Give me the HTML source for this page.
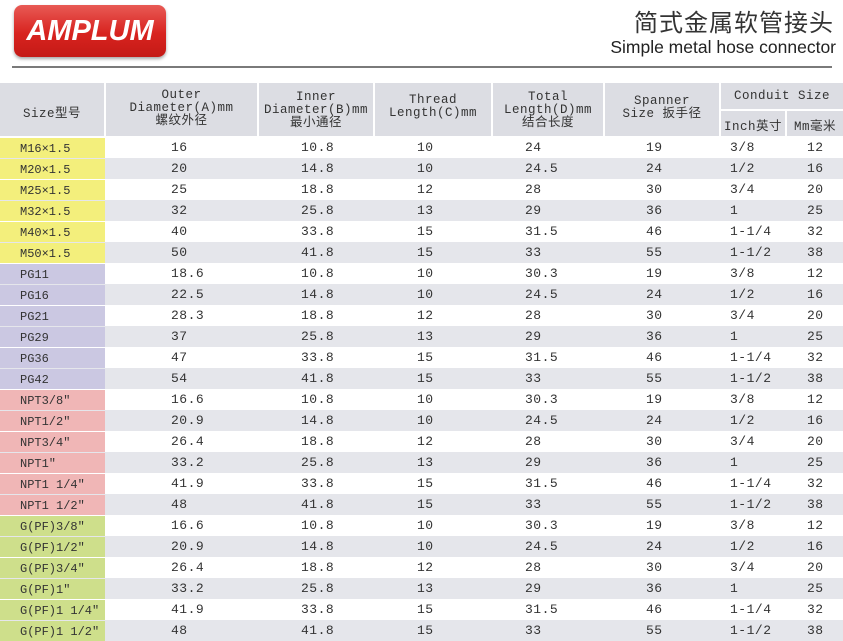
<!DOCTYPE html>
<html><head><meta charset="utf-8"><style>
body{margin:0;width:843px;height:641px;background:#fff;position:relative;overflow:hidden;font-family:"Liberation Sans","Noto Sans CJK SC",sans-serif;}
.logo{position:absolute;left:14px;top:5px;width:152px;height:52px;border-radius:8px;background:linear-gradient(#e85a55,#d8231f 55%,#c41a16);box-shadow:0 2px 3px rgba(0,0,0,.35);color:#fff;font:italic bold 29px "Liberation Sans",sans-serif;text-align:center;line-height:52px;letter-spacing:0px}
.t1{position:absolute;right:9px;top:3px;font-size:24px;color:#333;font-family:"Noto Sans CJK SC",sans-serif;letter-spacing:1px}
.t2{position:absolute;right:7px;top:37px;font-size:17.5px;color:#222}
.rule{position:absolute;left:12px;top:66px;width:820px;height:2px;background:#7a7a7a}
.c{position:absolute;font-family:"Liberation Mono","Noto Sans CJK SC",monospace;font-size:13px;color:#333;letter-spacing:0.5px;white-space:nowrap}
.s{font-size:12px;letter-spacing:0;margin-top:2px}
.h{position:absolute;background:#dcdde3;}
.hc{position:absolute;font-family:"Liberation Mono","Noto Sans CJK SC",monospace;font-size:12.5px;color:#333;text-align:center;line-height:13px;letter-spacing:0.5px;white-space:nowrap}
.r{position:absolute;left:0;width:843px;height:21px}
</style></head><body>
<div class="logo">AMPLUM</div>
<div class="t1">简式金属软管接头</div>
<div class="t2">Simple metal hose connector</div>
<div class="rule"></div>

<div class="h" style="left:0;top:83px;width:104px;height:53px"></div>
<div class="h" style="left:106px;top:83px;width:151px;height:53px"></div>
<div class="h" style="left:259px;top:83px;width:114px;height:53px"></div>
<div class="h" style="left:375px;top:83px;width:116px;height:53px"></div>
<div class="h" style="left:493px;top:83px;width:110px;height:53px"></div>
<div class="h" style="left:605px;top:83px;width:114px;height:53px"></div>
<div class="h" style="left:721px;top:83px;width:122px;height:26px"></div>
<div class="h" style="left:721px;top:111px;width:64px;height:25px"></div>
<div class="h" style="left:787px;top:111px;width:56px;height:25px"></div>

<div class="hc" style="left:0;width:104px;top:108px">Size型号</div>
<div class="hc" style="left:106px;width:151px;top:89px">Outer<br>Diameter(A)mm<br>螺纹外径</div>
<div class="hc" style="left:259px;width:114px;top:91px">Inner<br>Diameter(B)mm<br>最小通径</div>
<div class="hc" style="left:375px;width:116px;top:94px">Thread<br>Length(C)mm</div>
<div class="hc" style="left:493px;width:110px;top:91px">Total<br>Length(D)mm<br>结合长度</div>
<div class="hc" style="left:605px;width:114px;top:95px">Spanner<br>Size 扳手径</div>
<div class="hc" style="left:721px;width:122px;top:90px">Conduit Size</div>
<div class="hc" style="left:721px;width:64px;top:121px">Inch英寸</div>
<div class="hc" style="left:787px;width:56px;top:121px">Mm毫米</div>

<div id="rows"></div>
<script>
var d=[
["M16×1.5","16","10.8","10","24","19","3/8","12","#f3ef7c"],
["M20×1.5","20","14.8","10","24.5","24","1/2","16","#f3ef7c"],
["M25×1.5","25","18.8","12","28","30","3/4","20","#f3ef7c"],
["M32×1.5","32","25.8","13","29","36","1","25","#f3ef7c"],
["M40×1.5","40","33.8","15","31.5","46","1-1/4","32","#f3ef7c"],
["M50×1.5","50","41.8","15","33","55","1-1/2","38","#f3ef7c"],
["PG11","18.6","10.8","10","30.3","19","3/8","12","#cbc8e2"],
["PG16","22.5","14.8","10","24.5","24","1/2","16","#cbc8e2"],
["PG21","28.3","18.8","12","28","30","3/4","20","#cbc8e2"],
["PG29","37","25.8","13","29","36","1","25","#cbc8e2"],
["PG36","47","33.8","15","31.5","46","1-1/4","32","#cbc8e2"],
["PG42","54","41.8","15","33","55","1-1/2","38","#cbc8e2"],
["NPT3/8″","16.6","10.8","10","30.3","19","3/8","12","#f0b6b6"],
["NPT1/2″","20.9","14.8","10","24.5","24","1/2","16","#f0b6b6"],
["NPT3/4″","26.4","18.8","12","28","30","3/4","20","#f0b6b6"],
["NPT1″","33.2","25.8","13","29","36","1","25","#f0b6b6"],
["NPT1 1/4″","41.9","33.8","15","31.5","46","1-1/4","32","#f0b6b6"],
["NPT1 1/2″","48","41.8","15","33","55","1-1/2","38","#f0b6b6"],
["G(PF)3/8″","16.6","10.8","10","30.3","19","3/8","12","#cedf8b"],
["G(PF)1/2″","20.9","14.8","10","24.5","24","1/2","16","#cedf8b"],
["G(PF)3/4″","26.4","18.8","12","28","30","3/4","20","#cedf8b"],
["G(PF)1″","33.2","25.8","13","29","36","1","25","#cedf8b"],
["G(PF)1 1/4″","41.9","33.8","15","31.5","46","1-1/4","32","#cedf8b"],
["G(PF)1 1/2″","48","41.8","15","33","55","1-1/2","38","#cedf8b"]];
var xs=[20,171,301,417,525,646,730,807],h="";
d.forEach(function(r,i){var y=137+i*21;
h+='<div class="r" style="top:'+y+'px;background:'+(i%2?'#e5e6eb':'#fff')+'"></div>';
h+='<div style="position:absolute;left:0;top:'+(y+1)+'px;width:105px;height:20px;background:'+r[8]+'"></div>';
for(var k=0;k<8;k++)h+='<div class="c'+(k==0?' s':'')+'" style="left:'+xs[k]+'px;top:'+(y+3)+'px">'+r[k]+'</div>';});
document.getElementById('rows').innerHTML=h;
</script>
</body></html>
